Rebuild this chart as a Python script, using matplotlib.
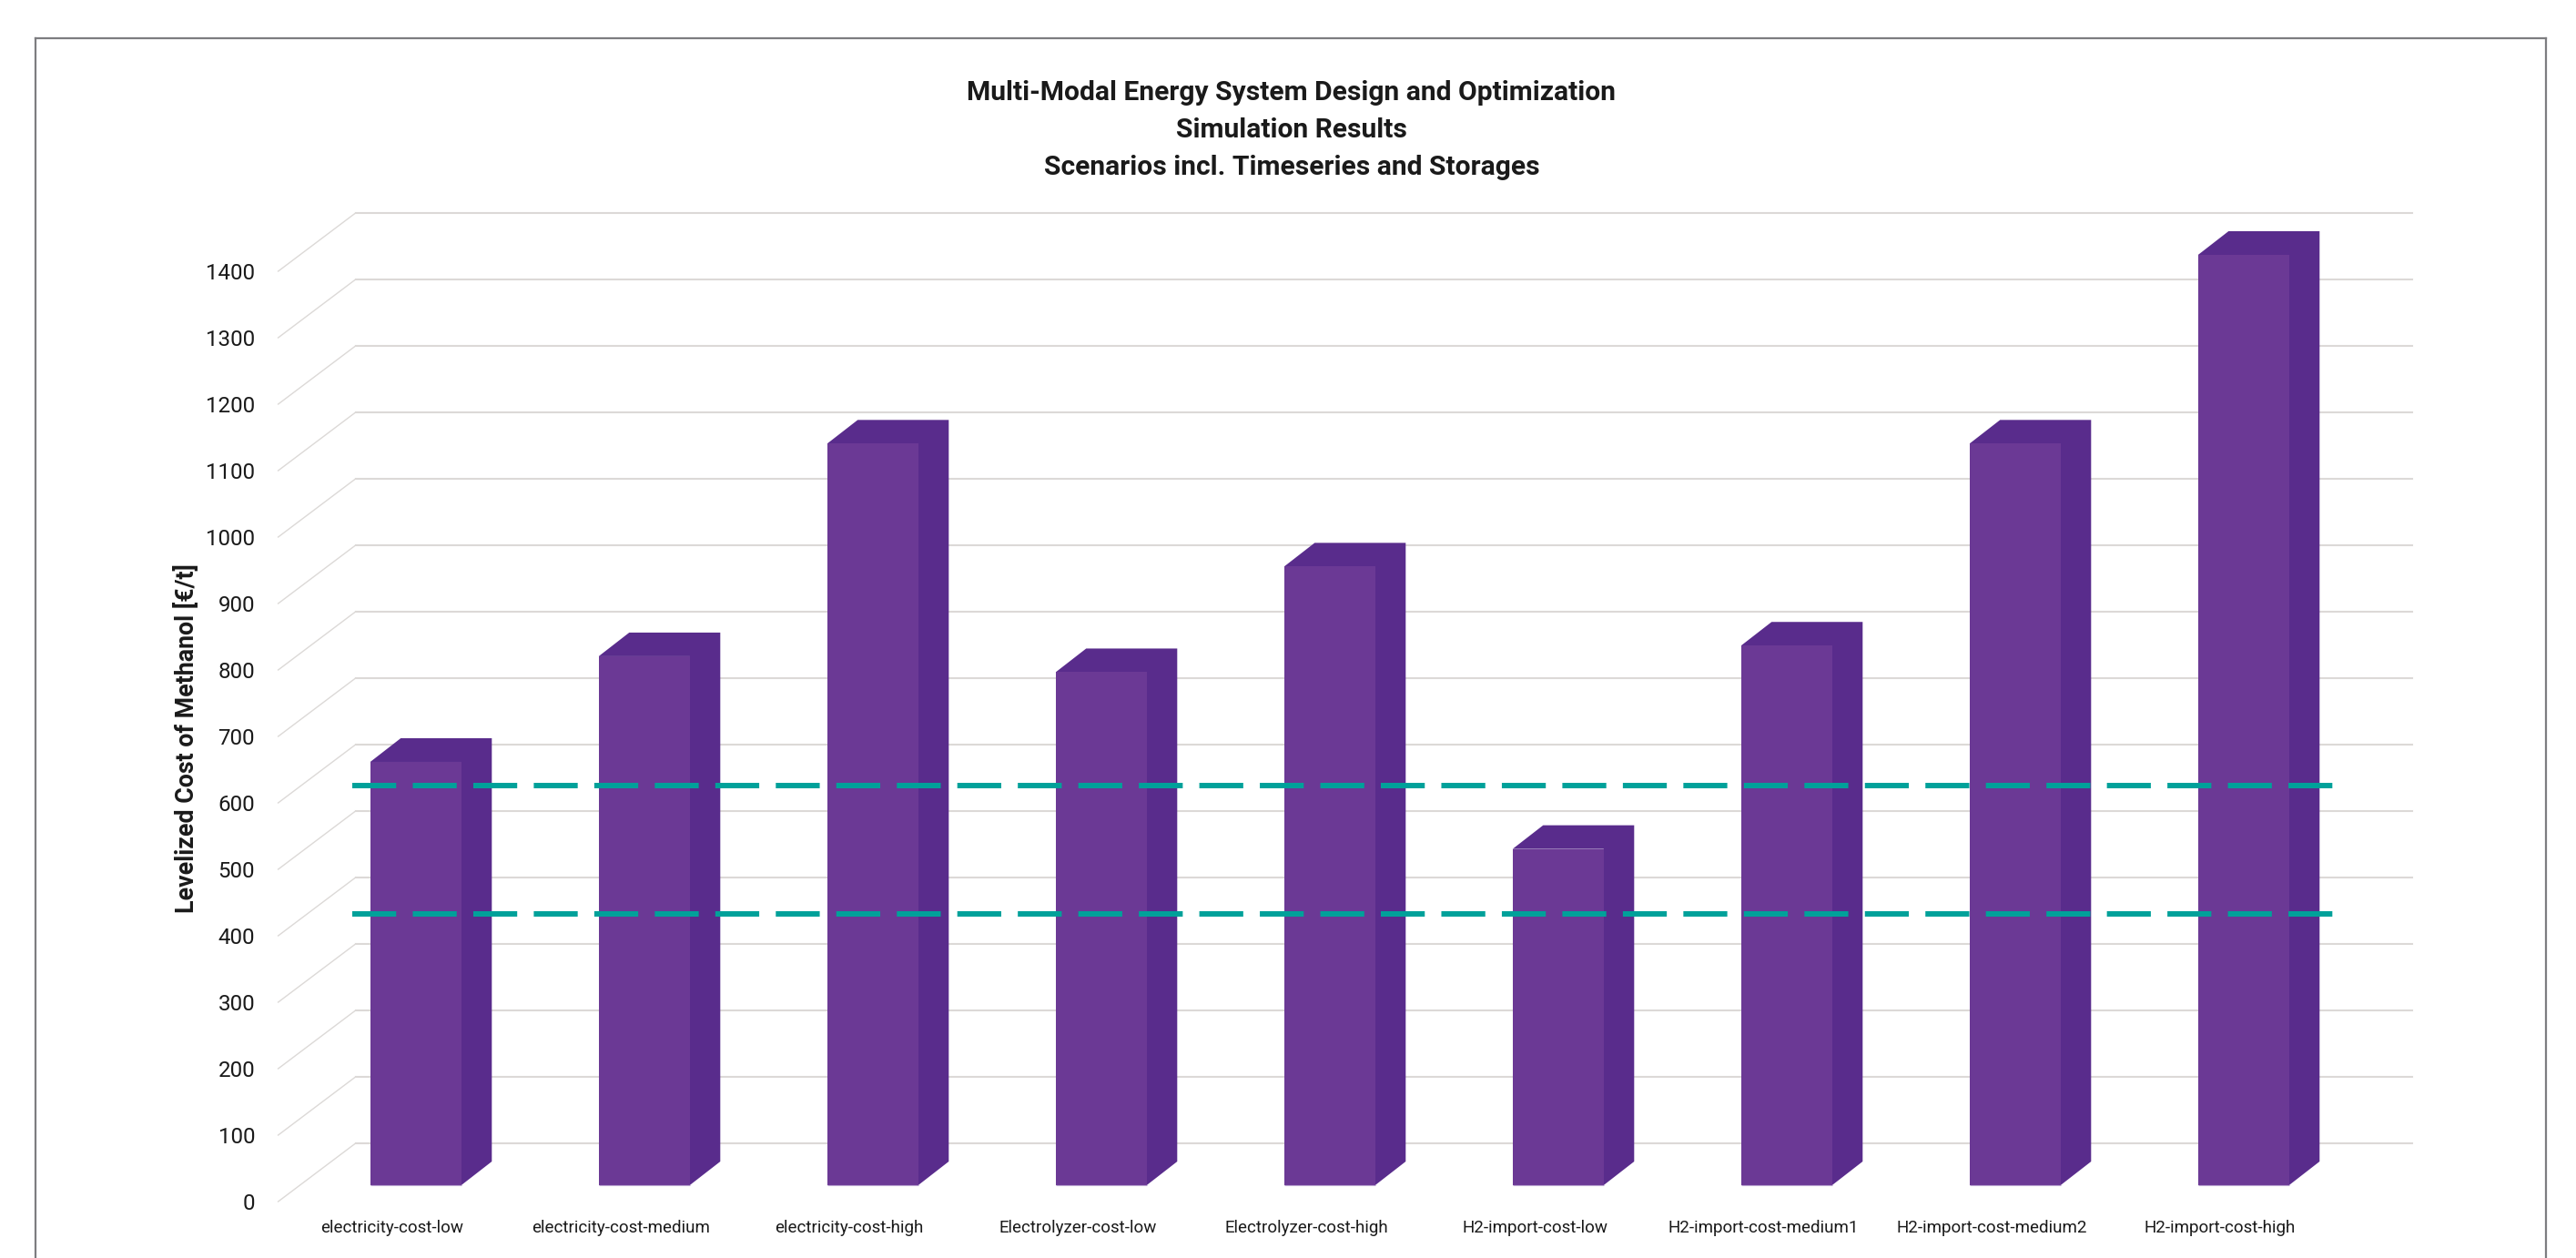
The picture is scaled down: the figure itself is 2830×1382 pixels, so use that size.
import matplotlib
matplotlib.use("Agg")
import matplotlib.pyplot as plt
from matplotlib.lines import Line2D
import numpy as np

W, H = 2830, 1382

categories = ["electricity-cost-low", "electricity-cost-medium", "electricity-cost-high",
              "Electrolyzer-cost-low", "Electrolyzer-cost-high", "H2-import-cost-low",
              "H2-import-cost-medium1", "H2-import-cost-medium2", "H2-import-cost-high"]
lcom = [637, 796, 1116, 772, 931, 506, 812, 1116, 1400]
thresholds = [602, 408]
yticks = list(range(0, 1500, 100))
title_lines = ["Multi-Modal Energy System Design and Optimization",
               "Simulation Results",
               "Scenarios incl. Timeseries and Storages"]
ylabel = "Levelized Cost of Methanol [€/t]"

FRONT = "#6b3995"
SIDE = "#592c8c"
GRID = "#dcd9d7"
TEAL = "#00a19a"
TEXT = "#1a1a1a"
FRAME = "#7d7d80"

plt.rcParams["font.family"] = ["Roboto", "DejaVu Sans"]

fig = plt.figure(figsize=(W / 100, H / 100), dpi=100, facecolor="white")

# axes = front edge of the fake 3d floor, in pixels of the picture
ax_left, ax_right, ax_bottom, ax_top = 305.6, 2564.6, 1320, 298
ax = fig.add_axes([ax_left / W, 1 - ax_bottom / H, (ax_right - ax_left) / W, (ax_bottom - ax_top) / H])
ax.set_xlim(-0.5, 8.5)
ax.set_ylim(0, 1400)
ax.patch.set_alpha(0)
for s in ax.spines.values():
    s.set_visible(False)

px_x = (ax_right - ax_left) / 9.0
px_y = (ax_bottom - ax_top) / 1400.0

# depth offsets
wall_dx, wall_dy = 85 / px_x, 64 / px_y
bar_dx, bar_dy = 25.7 / px_x, 18 / px_y
depth_dx, depth_dy = 33.5 / px_x, 26 / px_y
bar_w = 100 / px_x

for v in yticks:
    ax.plot([-0.5, -0.5 + wall_dx], [v, v + wall_dy], color=GRID, lw=1.0, clip_on=False, zorder=1)
    ax.plot([-0.5 + wall_dx, 8.5 + wall_dx], [v + wall_dy, v + wall_dy], color=GRID, lw=1.5,
            clip_on=False, zorder=1)

x = np.arange(len(categories))
left = x + bar_dx - bar_w / 2
right = left + bar_w
base = bar_dy
for i, v in enumerate(lcom):
    # top and side as one shape so there is no seam
    ax.fill([left[i], left[i] + depth_dx, right[i] + depth_dx, right[i] + depth_dx, right[i], right[i]],
            [base + v, base + v + depth_dy, base + v + depth_dy, base + depth_dy, base, base + v],
            color=SIDE, lw=0, clip_on=False, zorder=2)
ax.bar(x + bar_dx, lcom, width=bar_w, bottom=base, color=FRONT, lw=0, clip_on=False, zorder=3)
ax.hlines([base] * len(x), left, right, color="#b9a3d0", lw=0.8, clip_on=False, zorder=3)

for t in thresholds:
    ax.plot([-0.1765, 8.518], [t + bar_dy, t + bar_dy], color=TEAL, lw=4.3,
            linestyle=(0, (8.08, 3.05)), dash_capstyle="butt", clip_on=False, zorder=4)

ax.set_xticks(x)
ax.set_xticklabels(categories, fontsize=13.5, color=TEXT)
ax.set_yticks(yticks)
ax.set_yticklabels([str(v) for v in yticks], fontsize=17.4, color=TEXT)
ax.tick_params(axis="x", length=0, pad=14.5)
ax.tick_params(axis="y", length=0, pad=18.4)

ax.set_ylabel(ylabel, fontsize=19.3, fontweight="bold", color=TEXT, va="center")
ax.yaxis.set_label_coords((205 - ax_left) / (ax_right - ax_left), 0.498)

fig.text(1419 / W, 1 - 143 / H, "\n".join(title_lines), ha="center", va="center",
         fontsize=21.6, fontweight="bold", color=TEXT, linespacing=1.58)

# frame, open at the bottom like the original
for xs, ys in [([39, 39], [H, 42]), ([39, 2797], [42, 42]), ([2797, 2797], [42, H])]:
    fig.add_artist(Line2D([a / W for a in xs], [1 - b / H for b in ys], color=FRAME, lw=1.6))

fig.savefig("out.png", dpi=100)
